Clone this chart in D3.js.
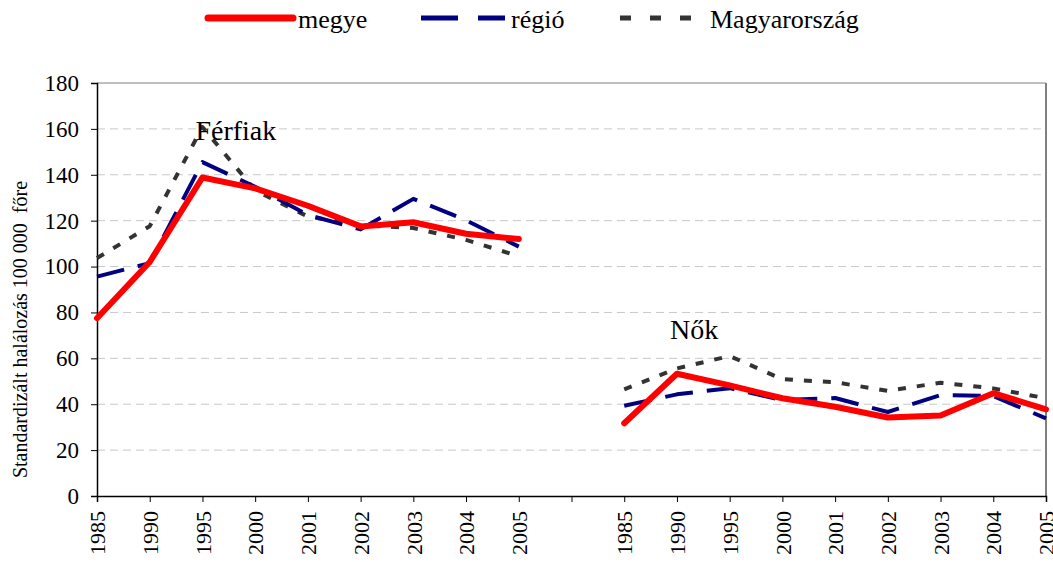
<!DOCTYPE html>
<html>
<head>
<meta charset="utf-8">
<script src="https://cdn.jsdelivr.net/npm/d3@7"></script>
<style>
    body { margin: 0; background: #fff; }
    svg text { font-family: "Liberation Serif", "Times New Roman", serif; fill: #000; }
</style>
</head>
<body>
<div id="chart"></div>
<script>
// x categories: two blocks of years with an empty slot in between
let years = ["1985", "1990", "1995", "2000", "2001", "2002", "2003", "2004", "2005"];

// men (Férfiak)
let megyeMen = [77.5, 102, 138.8, 134.1, 126.5, 117.5, 119.3, 114.3, 112];
let regioMen = [95.6, 101.5, 145.5, 134.8, 122.5, 116.2, 129.5, 120.2, 108.7];
let orszagMen = [103.7, 117.6, 160.8, 133.2, 121.8, 118, 116.8, 111.6, 104.5];

// women (Nők)
let megyeWomen = [31.7, 53.3, 48.2, 42.6, 38.9, 34.2, 35.1, 44.8, 37.8];
let regioWomen = [39.3, 44.3, 47, 41.8, 42.7, 36.6, 44, 43.6, 33.8];
let orszagWomen = [46.5, 55.6, 61, 50.9, 49.6, 45.8, 49.4, 46.9, 42.6];

let yTicks = [0, 20, 40, 60, 80, 100, 120, 140, 160, 180];

// build category keys (unique) and the labels
let categories = [];
years.forEach(y => categories.push({key: "m" + y, label: y}));
categories.push({key: "gap", label: ""});
years.forEach(y => categories.push({key: "w" + y, label: y}));

let series = [
    {name: "megye", men: megyeMen, women: megyeWomen, color: "#ff0000", width: 6, dash: null, cap: "round"},
    {name: "régió", men: regioMen, women: regioWomen, color: "#000080", width: 4, dash: "28,14", cap: "butt"},
    {name: "Magyarország", men: orszagMen, women: orszagWomen, color: "#333333", width: 4, dash: "8,11", cap: "butt"}
];

let margin = {top: 83, right: 7, bottom: 66, left: 97};
let width = 1053 - margin.left - margin.right;
let height = 562 - margin.top - margin.bottom;

let svg = d3.select("#chart").append("svg")
    .attr("width", 1053)
    .attr("height", 562);

let g = svg.append("g")
    .attr("transform", `translate(${margin.left}, ${margin.top})`);

let x = d3.scalePoint()
    .domain(categories.map(d => d.key))
    .range([0, width]);

let y = d3.scaleLinear()
    .domain([0, 180])
    .range([height, 0]);

// grid lines
g.append("g").selectAll("line")
    .data(yTicks.filter(t => t > 0))
    .enter().append("line")
    .attr("x1", 0)
    .attr("x2", width)
    .attr("y1", d => y(d))
    .attr("y2", d => y(d))
    .attr("stroke", d => d === 180 ? "#808080" : "#c8c8c8")
    .attr("stroke-width", 1)
    .attr("stroke-dasharray", d => d === 180 ? null : "8,5");

// right border
g.append("line")
    .attr("x1", width).attr("x2", width)
    .attr("y1", 0).attr("y2", height)
    .attr("stroke", "#808080")
    .attr("stroke-width", 2);

// axes
let labelOf = {};
categories.forEach(c => labelOf[c.key] = c.label);

let xAxis = d3.axisBottom(x)
    .tickSize(6)
    .tickFormat(k => labelOf[k]);

let yAxis = d3.axisLeft(y)
    .tickValues(yTicks)
    .tickSize(6);

let xg = g.append("g")
    .attr("class", "x-axis axis")
    .attr("transform", `translate(0, ${height})`)
    .call(xAxis);

xg.select(".domain").attr("stroke", "#000").attr("stroke-width", 1.5);
xg.selectAll(".tick line").attr("stroke", "#000");
xg.selectAll(".tick text")
    .attr("font-size", 22)
    .style("font-size", "22px")
    .attr("transform", "rotate(-90)")
    .attr("text-anchor", "end")
    .attr("x", -15)
    .attr("y", 0)
    .attr("dy", "0.35em");

let yg = g.append("g")
    .attr("class", "y-axis axis")
    .call(yAxis);

yg.select(".domain").attr("stroke", "#000").attr("stroke-width", 1.5);
yg.selectAll(".tick line").attr("stroke", "#000");
yg.selectAll(".tick text")
    .attr("font-size", 23)
    .style("font-size", "23px")
    .attr("x", -18);

// y axis title
svg.append("text")
    .attr("transform", `translate(27, ${margin.top + height / 2 + 40}) rotate(-90)`)
    .attr("text-anchor", "middle")
    .style("font-size", "20px")
    .style("white-space", "pre")
    .text("Standardizált halálozás 100 000  főre");

// lines
let line = d3.line()
    .x(d => x(d.key))
    .y(d => y(d.value))
    .curve(d3.curveLinear);

// draw Magyarország first, then régió, then megye on top
series.slice().reverse().forEach(s => {
    let men = years.map((yr, i) => ({key: "m" + yr, value: s.men[i]}));
    let women = years.map((yr, i) => ({key: "w" + yr, value: s.women[i]}));
    [men, women].forEach(part => {
        g.append("path")
            .datum(part)
            .attr("fill", "none")
            .attr("stroke", s.color)
            .attr("stroke-width", s.width)
            .attr("stroke-dasharray", s.dash)
            .attr("stroke-linecap", s.cap)
            .attr("stroke-linejoin", "round")
            .attr("d", line);
    });
});

// group labels
g.append("text")
    .attr("x", x("m1995") - 7)
    .attr("y", y(155))
    .style("font-size", "28px")
    .text("Férfiak");

g.append("text")
    .attr("x", x("w1990") - 7)
    .attr("y", y(68.5))
    .style("font-size", "28px")
    .text("Nők");

// legend
let legendItems = [
    {s: series[0], x1: 208, x2: 293, tx: 298},
    {s: series[1], x1: 421, x2: 505, tx: 511},
    {s: series[2], x1: 620, x2: 692, tx: 710}
];

let legend = svg.append("g").attr("class", "legend");
legendItems.forEach(item => {
    legend.append("line")
        .attr("x1", item.x1)
        .attr("x2", item.x2)
        .attr("y1", 18)
        .attr("y2", 18)
        .attr("stroke", item.s.color)
        .attr("stroke-width", item.s.name === "megye" ? 7 : 5)
        .attr("stroke-linecap", item.s.cap)
        .attr("stroke-dasharray", item.s.name === "régió" ? "37,20" : (item.s.name === "Magyarország" ? "11,19" : null));
    legend.append("text")
        .attr("x", item.tx)
        .attr("y", 28)
        .style("font-size", "26px")
        .text(item.s.name);
});
</script>
</body>
</html>
